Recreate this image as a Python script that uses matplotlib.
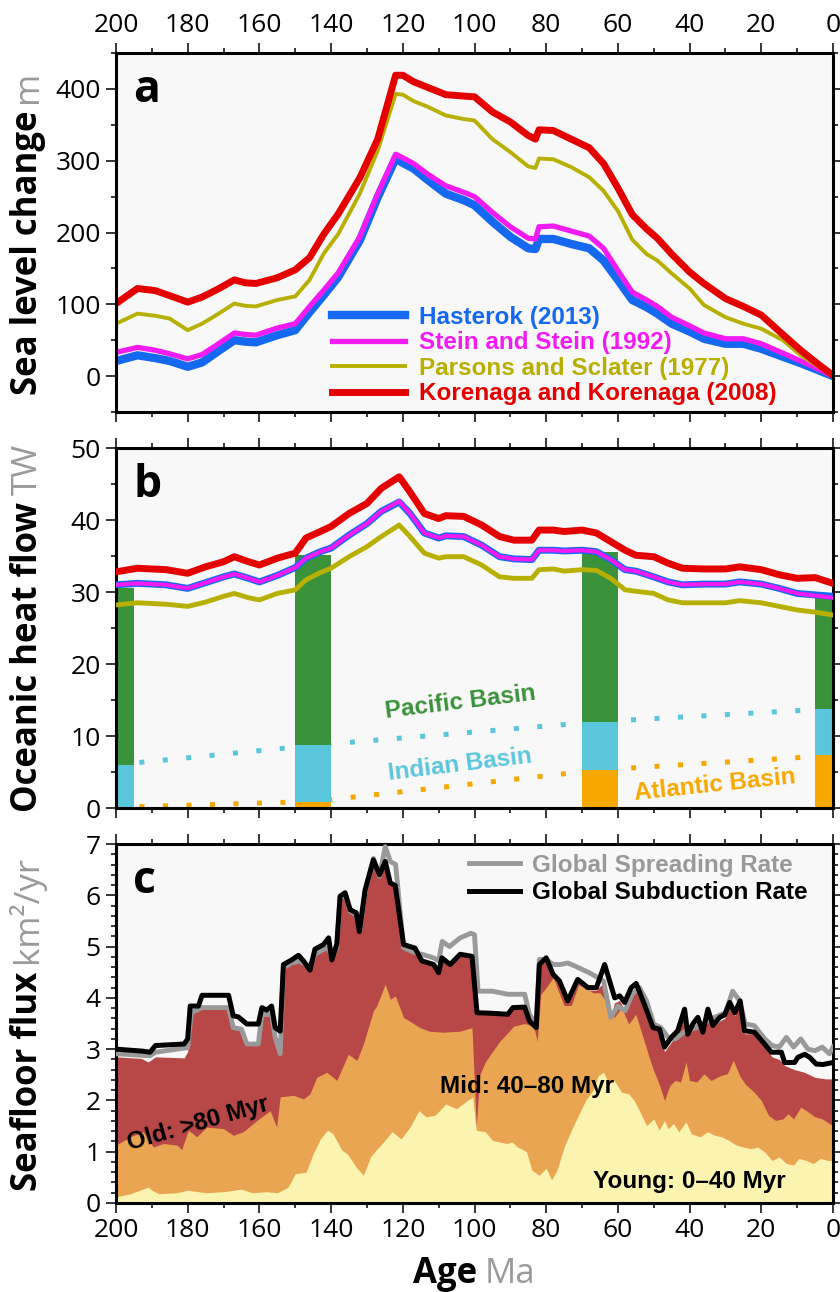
import numpy as np
import matplotlib
matplotlib.use("Agg")
import matplotlib.pyplot as plt
from matplotlib.ticker import MultipleLocator

# ---- panel a: sea level change (m) ----
age_a = [200, 194, 189, 185, 180, 176, 172, 167, 164, 161,
         155, 150, 146, 142, 138, 132, 127, 122, 120, 117,
         113, 108, 103, 100, 95, 90, 85, 83, 82, 78,
         73, 68, 64, 60, 56, 52, 49, 45, 40, 36,
         30, 25, 20, 14, 9, 5, 0]
hasterok_a = [21, 29, 25, 21, 13, 19, 33, 50, 48, 47,
              57, 64, 89, 113, 138, 189, 249, 303, 297, 289,
              273, 254, 245, 238, 215, 194, 178, 177, 191, 191,
              184, 178, 161, 134, 106, 96, 87, 73, 62, 52,
              45, 45, 38, 27, 18, 10, 0]
stein_a = [33, 40, 36, 31, 24, 30, 43, 60, 58, 57,
           67, 73, 97, 120, 144, 194, 254, 309, 304, 296,
           281, 265, 256, 250, 228, 208, 192, 191, 208, 209,
           202, 195, 178, 147, 117, 106, 97, 82, 70, 60,
           52, 52, 45, 32, 21, 12, 0]
parsons_a = [73, 87, 84, 80, 64, 73, 85, 101, 98, 97,
             106, 111, 134, 171, 198, 254, 314, 393, 392, 383,
             375, 363, 358, 356, 330, 312, 292, 290, 303, 302,
             291, 277, 258, 230, 190, 170, 161, 143, 122, 99,
             82, 73, 66, 50, 29, 16, 1]
korenaga_a = [101, 122, 119, 112, 103, 110, 120, 134, 130, 129,
              137, 148, 165, 198, 226, 276, 330, 419, 419, 410,
              402, 392, 390, 389, 368, 354, 335, 330, 343, 342,
              330, 318, 296, 262, 225, 205, 192, 170, 145, 129,
              108, 97, 85, 58, 36, 20, 1]

# ---- panel b: oceanic heat flow (TW) ----
age_b = [200, 194, 186, 180, 175, 170, 167, 163, 160, 155,
         150, 147, 143, 140, 135, 130, 126, 121, 118, 114,
         110, 108, 103, 98, 93, 89, 84, 82, 78, 75,
         70, 66, 62, 58, 55, 50, 46, 42, 36, 30,
         26, 20, 15, 10, 5, 0]
hasterok_b = [31.0, 31.2, 31.0, 30.5, 31.3, 32.1, 32.5, 31.9, 31.4, 32.3,
              33.4, 34.7, 35.6, 36.1, 37.9, 39.5, 41.2, 42.5, 40.9, 38.2,
              37.5, 37.8, 37.7, 36.5, 34.9, 34.6, 34.5, 35.8, 35.8, 35.7,
              35.8, 35.6, 34.5, 33.1, 32.9, 32.1, 31.4, 31.0, 31.1, 31.1,
              31.4, 31.1, 30.5, 29.8, 29.6, 29.4]
stein_b = [31.0, 31.2, 31.0, 30.5, 31.3, 32.1, 32.5, 31.9, 31.4, 32.3,
           33.4, 34.7, 35.6, 36.1, 37.9, 39.5, 41.2, 42.6, 40.9, 38.2,
           37.5, 37.8, 37.7, 36.5, 34.9, 34.6, 34.5, 35.8, 35.8, 35.7,
           35.8, 35.6, 34.5, 33.1, 32.9, 32.1, 31.4, 31.0, 31.1, 31.1,
           31.4, 31.1, 30.5, 29.8, 29.5, 29.2]
parsons_b = [28.2, 28.5, 28.3, 28.0, 28.6, 29.4, 29.8, 29.2, 28.9, 29.8,
             30.3, 31.7, 32.7, 33.3, 34.9, 36.3, 37.7, 39.3, 37.7, 35.4,
             34.7, 34.9, 34.9, 33.75, 32.1, 31.9, 31.9, 33.1, 33.2, 32.9,
             33.1, 33.0, 31.9, 30.3, 30.1, 29.8, 28.9, 28.5, 28.5, 28.5,
             28.8, 28.5, 28.0, 27.5, 27.2, 26.8]
korenaga_b = [32.8, 33.3, 33.1, 32.6, 33.5, 34.2, 34.9, 34.2, 33.75, 34.7,
              35.4, 37.5, 38.4, 39.1, 40.9, 42.3, 44.4, 46.0, 43.9, 40.9,
              40.2, 40.6, 40.5, 39.3, 37.7, 37.2, 37.2, 38.6, 38.6, 38.4,
              38.6, 38.2, 37.0, 35.8, 35.1, 34.9, 34.0, 33.3, 33.2, 33.2,
              33.5, 33.1, 32.4, 31.9, 32.0, 31.2]

basin_age = [200, 145, 65, 0]
atlantic = [0.1, 0.9, 5.3, 7.3]
indian = [5.9, 7.8, 6.7, 6.5]
pacific = [24.5, 26.4, 23.5, 15.6]

# ---- panel c: seafloor flux (km2/yr) ----
sub_age = [200, 192.4, 190.5, 189, 181, 180, 179.3, 177, 176, 168.6,
           167.3, 165.9, 163.5, 160.3, 159.3, 158, 156.6, 155.6, 154.2, 153.3,
           151, 149.1, 147.7, 145.9, 144.5, 142.1, 140.7, 139.8, 138.4, 137.5,
           136.1, 134.7, 133, 132.1, 130.5, 128.2, 126.5, 124.9, 123.5, 122.1,
           119.8, 116.6, 114.7, 111.4, 110, 109.1, 106.8, 104, 100.7, 99.3,
           95.3, 90.7, 89.3, 86, 84.7, 82.8, 81.9, 80, 78.1, 76.3,
           74, 71.2, 68.4, 66, 63.7, 60.9, 59.5, 58.1, 56.3, 54.9,
           52.6, 50.2, 48.4, 47, 45.1, 43.3, 41.4, 40.5, 39.1, 37.7,
           36.3, 34.9, 33.5, 31.6, 30.2, 28.8, 27.4, 25.9, 24.7, 21.9,
           19.1, 17.2, 14.4, 13.5, 10.7, 9.8, 7.9, 6.5, 4.7, 2.8,
           0]
sub_rate = [3.00, 2.96, 2.94, 3.07, 3.10, 3.20, 3.84, 3.84, 4.05, 4.05,
            3.65, 3.63, 3.49, 3.49, 3.81, 3.76, 3.84, 3.42, 3.35, 4.65,
            4.74, 4.83, 4.72, 4.54, 4.95, 5.04, 5.17, 4.74, 5.05, 5.98,
            6.05, 5.72, 5.66, 5.29, 6.11, 6.69, 6.40, 6.66, 6.24, 6.19,
            5.04, 4.97, 4.72, 4.65, 4.49, 4.78, 4.65, 4.85, 4.81, 3.71,
            3.70, 3.68, 3.81, 3.82, 3.55, 3.42, 4.65, 4.78, 4.46, 4.33,
            3.94, 4.36, 4.20, 4.20, 4.65, 4.00, 4.04, 3.91, 4.20, 4.28,
            3.87, 3.42, 3.39, 3.04, 3.23, 3.36, 3.78, 3.29, 3.49, 3.62,
            3.33, 3.78, 3.46, 3.62, 3.67, 3.91, 3.71, 3.94, 3.36, 3.33,
            3.10, 2.94, 2.94, 2.74, 2.74, 2.84, 2.90, 2.84, 2.71, 2.70,
            2.74]

spr_age = [200, 190.5, 189, 180, 179, 176, 168.6, 167.3, 165, 163.5,
           160.3, 159.3, 156.6, 155.6, 154.2, 153.3, 151, 149, 146, 144.5,
           142, 140.7, 139.8, 138.4, 137.5, 136, 134.7, 133, 132, 130.5,
           128.2, 126.5, 124.9, 123.5, 122, 119.8, 116.6, 114.7, 111.4, 110,
           109, 107, 104, 101, 100, 99, 95, 90.7, 86, 84.7,
           82.8, 81.9, 80, 78, 76, 74, 72, 68, 64, 62,
           60, 58, 56, 54, 52, 50, 48, 46, 44, 41,
           38, 35, 33, 30, 28, 26, 24.5, 22, 19, 17,
           15, 13, 11, 9, 7, 5, 3, 1, 0]
spr_rate = [2.91, 2.87, 2.94, 3.03, 3.71, 3.81, 3.81, 3.42, 3.39, 3.10,
            3.10, 3.68, 3.68, 3.23, 2.91, 4.59, 4.68, 4.72, 4.62, 4.85,
            4.95, 4.98, 4.78, 4.98, 5.95, 6.01, 5.69, 5.62, 5.30, 6.08,
            6.72, 6.37, 6.95, 6.66, 6.60, 4.98, 4.88, 4.85, 4.78, 4.72,
            5.10, 5.00, 5.17, 5.26, 5.23, 4.13, 4.13, 4.07, 4.07, 3.68,
            3.49, 4.75, 4.75, 4.65, 4.65, 4.68, 4.62, 4.49, 4.33, 3.62,
            3.84, 3.75, 4.07, 4.20, 3.94, 3.49, 3.42, 3.23, 3.20, 3.36,
            3.42, 3.55, 3.62, 3.71, 4.13, 3.94, 3.49, 3.46, 3.20, 3.07,
            3.04, 3.23, 3.04, 3.20, 3.00, 2.97, 3.04, 2.91, 3.04]

# cumulative tops of the age classes: total (old+mid+young), mid+young, young
tot_age = [200, 193, 191, 189, 181, 180, 179.3, 176, 168.6, 167.3,
           165, 163.5, 160.5, 159.3, 156.6, 155.6, 154.2, 153.3, 151, 149,
           146, 144.5, 142, 140.7, 139.8, 138.4, 137.5, 136, 134.7, 133,
           132, 130.5, 128.2, 126.5, 124.9, 123.5, 122, 119.8, 116.6, 114.7,
           111.4, 110, 109, 107, 104, 100.7, 99.3, 95, 90.7, 89.3,
           86, 84.7, 82.8, 81.9, 80, 78, 76, 74, 71, 68,
           66, 64, 62, 61, 59.5, 58, 56, 55, 52.6, 50.2,
           48.4, 47, 45, 43.3, 41.4, 40.5, 39, 37.7, 36.3, 35,
           33.5, 31.6, 30.2, 28.8, 27.4, 25.9, 24.7, 22, 19, 17,
           15, 13.5, 10.7, 8, 5, 2, 0]
tot_flux = [2.85, 2.82, 2.75, 2.85, 2.83, 2.95, 3.72, 3.78, 3.78, 3.40,
            3.37, 3.08, 3.08, 3.65, 3.65, 3.20, 2.88, 4.58, 4.66, 4.70,
            4.55, 4.85, 4.95, 4.98, 4.74, 4.98, 5.95, 6.00, 5.69, 5.62,
            5.29, 6.08, 6.65, 6.37, 6.66, 6.24, 6.19, 5.00, 4.90, 4.72,
            4.65, 4.49, 4.78, 4.65, 4.85, 4.81, 3.68, 3.68, 3.66, 3.80,
            3.80, 3.55, 3.40, 4.62, 4.72, 4.45, 4.30, 3.90, 4.30, 4.15,
            4.15, 4.30, 3.60, 3.90, 3.95, 3.75, 4.05, 4.18, 3.85, 3.40,
            3.35, 2.95, 3.15, 3.30, 3.70, 3.25, 3.40, 3.55, 3.30, 3.70,
            3.42, 3.55, 3.60, 3.85, 3.65, 3.88, 3.30, 3.30, 3.05, 2.85,
            2.80, 2.68, 2.60, 2.55, 2.45, 2.42, 2.42]

mid_age = [200, 196, 192.4, 189.6, 186.8, 183, 181.7, 179.8, 177.5, 174.7,
           170, 167.3, 164.5, 160.7, 157, 155.2, 154.2, 150.5, 147.7, 145.9,
           144, 141.2, 138.4, 136.6, 135.2, 132.8, 131, 128.2, 127.3, 124.9,
           123.5, 122.1, 119.8, 115.2, 112.6, 108.9, 104, 100.7, 99.5, 98.5,
           97, 95, 93, 91, 89, 86, 83.5, 82.5, 81.5, 80,
           78, 77, 75, 73, 71, 69, 67, 65, 63, 61,
           59, 57, 55, 53, 51, 50, 48.5, 47, 45.5, 44,
           42.5, 41, 40, 38, 36, 34, 31.5, 29.5, 27.8, 26,
           24.5, 22, 20, 18, 16, 14, 12.5, 11, 9, 7,
           5, 3, 1, 0]
mid_top = [1.13, 1.29, 1.39, 1.09, 1.16, 1.13, 1.04, 1.42, 1.29, 1.48,
           1.45, 1.32, 1.39, 1.61, 1.80, 1.48, 2.07, 2.10, 2.03, 2.13,
           2.45, 2.55, 2.39, 2.68, 2.90, 2.78, 3.10, 3.75, 3.84, 4.27,
           3.97, 4.04, 3.62, 3.42, 3.35, 3.33, 3.35, 3.42, 1.50, 2.50,
           2.75, 2.95, 3.15, 3.30, 3.45, 3.50, 3.45, 3.15, 4.07, 4.20,
           4.40, 4.20, 3.85, 3.85, 4.25, 4.20, 4.10, 4.10, 3.90, 3.62,
           3.81, 3.49, 3.68, 3.23, 2.78, 2.58, 2.32, 2.00, 2.29, 2.39,
           2.36, 2.75, 2.39, 2.36, 2.52, 2.39, 2.48, 2.52, 2.78, 2.48,
           2.32, 2.16, 2.00, 1.71, 1.61, 1.64, 1.74, 1.64, 1.87, 1.78,
           1.68, 1.64, 1.55, 1.51]

young_age = [200, 196, 191, 190, 188, 183, 180, 175, 170, 165,
             162, 158, 155, 152, 150, 147, 145, 143, 141, 139.5,
             137, 135.5, 133, 131, 129, 127.5, 125, 123, 120.5, 118,
             115.5, 113.5, 111, 108, 105, 102, 100.5, 99.5, 97, 95,
             93, 91, 89.5, 88, 87, 85.5, 84, 82, 80, 78.5,
             77, 75, 73, 71, 69, 67, 65.5, 64, 62.5, 61,
             59, 57, 55.5, 54, 52, 50, 48.5, 47, 46, 44.5,
             43, 41, 39.5, 37, 35, 33, 31, 29, 27, 25,
             23, 21, 19, 17, 15, 13, 11, 9.5, 7.5, 5.5,
             3.5, 1.5, 0]
young_top = [0.12, 0.18, 0.31, 0.25, 0.18, 0.20, 0.25, 0.20, 0.22, 0.27,
             0.20, 0.22, 0.20, 0.31, 0.57, 0.60, 0.96, 1.25, 1.42, 1.35,
             1.03, 0.96, 0.70, 0.54, 0.90, 1.03, 1.22, 1.39, 1.25, 1.48,
             1.80, 1.68, 1.71, 1.93, 1.84, 2.00, 2.06, 1.42, 1.39, 1.22,
             1.19, 1.16, 1.19, 1.09, 1.06, 1.00, 0.64, 0.54, 0.68, 0.45,
             0.64, 1.09, 1.42, 1.71, 2.00, 2.19, 2.48, 2.55, 2.32, 2.39,
             2.16, 2.13, 2.00, 1.80, 1.51, 1.64, 1.42, 1.61, 1.45, 1.55,
             1.39, 1.58, 1.35, 1.29, 1.39, 1.32, 1.29, 1.22, 1.13, 1.09,
             1.06, 1.09, 0.99, 0.83, 0.90, 0.77, 0.74, 0.87, 0.83, 0.77,
             0.87, 0.83, 0.83]

# colours
BLUE = "#1569f0"
MAGENTA = "#f21cf2"
OLIVE = "#b7b000"
RED = "#e50000"
GREEN = "#3a923a"
CYAN = "#5ac6dc"
AMBER = "#f7a800"
OLD = "#b84747"
MID = "#e9a552"
YOUNG = "#fbf3b0"
UNIT = "#9a9a9a"

plt.rcParams["font.family"] = ["Open Sans", "DejaVu Sans"]
TICK_SIZE = 19
LABEL_SIZE = 25
TEXT_SIZE = 17.5
ANNOT_FONT = ["Liberation Sans", "DejaVu Sans"]

W, H = 840, 1292
fig = plt.figure(figsize=(W / 100, H / 100), dpi=100)

left = 116 / W
width = 717 / W
ax_a = fig.add_axes([left, 1 - 412 / H, width, 359 / H])
ax_b = fig.add_axes([left, 1 - 808 / H, width, 360 / H])
ax_c = fig.add_axes([left, 1 - 1203 / H, width, 359 / H])

for ax in (ax_a, ax_b, ax_c):
    ax.set_facecolor("#f8f8f8")
    ax.set_xlim(200, 0)
    ax.xaxis.set_major_locator(MultipleLocator(20))
    ax.xaxis.set_minor_locator(MultipleLocator(10))
    for s in ax.spines.values():
        s.set_linewidth(2.2)
    ax.tick_params(which="both", direction="out", top=True, right=True,
                   labelsize=TICK_SIZE, width=1.1, pad=4)
    ax.tick_params(which="major", length=7)
    ax.tick_params(which="minor", length=3.6)

ax_a.tick_params(axis="x", labeltop=True, labelbottom=False)
ax_b.tick_params(axis="x", labeltop=False, labelbottom=False)
ax_c.tick_params(axis="x", labeltop=False, labelbottom=True)

# ---- panel a ----
ax_a.set_ylim(-50, 450)
ax_a.yaxis.set_major_locator(MultipleLocator(100))
ax_a.yaxis.set_minor_locator(MultipleLocator(50))
ax_a.plot(age_a, hasterok_a, color=BLUE, lw=6, label="Hasterok (2013)")
ax_a.plot(age_a, stein_a, color=MAGENTA, lw=3.8, label="Stein and Stein (1992)")
ax_a.plot(age_a, parsons_a, color=OLIVE, lw=2.8, label="Parsons and Sclater (1977)")
ax_a.plot(age_a, korenaga_a, color=RED, lw=5, label="Korenaga and Korenaga (2008)")
leg = ax_a.legend(loc="center left", bbox_to_anchor=(0.301, 0.157), frameon=False,
                  prop={"family": ANNOT_FONT, "weight": "bold", "size": TEXT_SIZE},
                  handlelength=3.0, handletextpad=0.6, labelspacing=0.1,
                  borderpad=0, borderaxespad=0)
for txt, ln in zip(leg.get_texts(), leg.get_lines()):
    txt.set_color(ln.get_color())

# ---- panel b ----
ax_b.set_ylim(0, 50)
ax_b.yaxis.set_major_locator(MultipleLocator(10))
ax_b.yaxis.set_minor_locator(MultipleLocator(5))
atl = np.array(atlantic)
ind = np.array(indian)
pac = np.array(pacific)
ax_b.plot(basin_age, atl + ind, color=CYAN, lw=3.6, ls=(0, (1, 3.7)), zorder=1.5)
ax_b.plot(basin_age, atl, color=AMBER, lw=3.6, ls=(0, (1, 3.7)), zorder=1.5)
ax_b.bar(basin_age, atl, width=10, color=AMBER, zorder=2)
ax_b.bar(basin_age, ind, width=10, bottom=atl, color=CYAN, zorder=2)
ax_b.bar(basin_age, pac, width=10, bottom=atl + ind, color=GREEN, zorder=2)
ax_b.plot(age_b, parsons_b, color=OLIVE, lw=3.5, zorder=3)
ax_b.plot(age_b, hasterok_b, color=BLUE, lw=5, zorder=3)
ax_b.plot(age_b, stein_b, color=MAGENTA, lw=3, zorder=3)
ax_b.plot(age_b, korenaga_b, color=RED, lw=5, zorder=3)
ax_b.text(104, 14.7, "Pacific Basin", color=GREEN, rotation=7, ha="center", va="center",
          fontsize=TEXT_SIZE, fontweight="bold", family=ANNOT_FONT)
ax_b.text(104, 6.0, "Indian Basin", color=CYAN, rotation=7, ha="center", va="center",
          fontsize=TEXT_SIZE, fontweight="bold", family=ANNOT_FONT)
ax_b.text(33, 3.2, "Atlantic Basin", color=AMBER, rotation=6, ha="center", va="center",
          fontsize=TEXT_SIZE, fontweight="bold", family=ANNOT_FONT)

# ---- panel c ----
ax_c.set_ylim(0, 7)
ax_c.yaxis.set_major_locator(MultipleLocator(1))
ax_c.yaxis.set_minor_locator(MultipleLocator(0.2))
ax_c.fill_between(tot_age, 0, tot_flux, color=OLD, lw=0, zorder=1)
ax_c.fill_between(mid_age, 0, mid_top, color=MID, lw=0, zorder=1.1)
ax_c.fill_between(young_age, 0, young_top, color=YOUNG, lw=0, zorder=1.2)
ax_c.plot(spr_age, spr_rate, color="#999999", lw=3.5, zorder=3, label="Global Spreading Rate")
ax_c.plot(sub_age, sub_rate, color="black", lw=3.6, zorder=4, label="Global Subduction Rate")
leg = ax_c.legend(loc="center left", bbox_to_anchor=(0.492, 0.9025), frameon=False,
                  prop={"family": ANNOT_FONT, "weight": "bold", "size": TEXT_SIZE},
                  handlelength=2.1, handletextpad=0.5, labelspacing=0.2,
                  borderpad=0, borderaxespad=0)
for txt, ln in zip(leg.get_texts(), leg.get_lines()):
    txt.set_color(ln.get_color())
ax_c.text(177, 1.55, "Old: >80 Myr", rotation=16, ha="center", va="center",
          fontsize=TEXT_SIZE, fontweight="bold", family=ANNOT_FONT, zorder=5)
ax_c.text(85.4, 2.27, "Mid: 40\u201380 Myr", ha="center", va="center",
          fontsize=TEXT_SIZE, fontweight="bold", family=ANNOT_FONT, zorder=5)
ax_c.text(40.2, 0.42, "Young: 0\u201340 Myr", ha="center", va="center",
          fontsize=TEXT_SIZE, fontweight="bold", family=ANNOT_FONT, zorder=5)

# panel letters
for ax, letter in ((ax_a, "a"), (ax_b, "b"), (ax_c, "c")):
    ax.text(0.024, 1 - 49 / 359, letter, transform=ax.transAxes, fontsize=32,
            fontweight="bold", va="baseline", ha="left", zorder=6)

# two-tone axis labels (bold name + grey unit)
renderer = fig.canvas.get_renderer()


def two_tone_ylabel(ax, name, unit, x_px=37):
    t1 = fig.text(0, 0, name, rotation=90, rotation_mode="anchor", ha="left",
                  va="baseline", fontsize=LABEL_SIZE, fontweight="bold")
    t2 = fig.text(0, 0, unit, rotation=90, rotation_mode="anchor", ha="left",
                  va="baseline", fontsize=LABEL_SIZE, color=UNIT)
    h1 = t1.get_window_extent(renderer).height
    h2 = t2.get_window_extent(renderer).height
    gap = 0.22 * LABEL_SIZE * fig.dpi / 72
    pos = ax.get_position()
    yc = (pos.y0 + pos.y1) / 2 * H
    y0 = yc - (h1 + gap + h2) / 2
    t1.set_position((x_px / W, y0 / H))
    t2.set_position((x_px / W, (y0 + h1 + gap) / H))


two_tone_ylabel(ax_a, "Sea level change", "m")
two_tone_ylabel(ax_b, "Oceanic heat flow", "TW")
two_tone_ylabel(ax_c, "Seafloor flux", "km\u00b2/yr")

t1 = fig.text(0, 0, "Age", ha="left", va="baseline", fontsize=LABEL_SIZE, fontweight="bold")
t2 = fig.text(0, 0, "Ma", ha="left", va="baseline", fontsize=LABEL_SIZE, color=UNIT)
w1 = t1.get_window_extent(renderer).width
w2 = t2.get_window_extent(renderer).width
gap = 0.22 * LABEL_SIZE * fig.dpi / 72
pos = ax_c.get_position()
xc = (pos.x0 + pos.x1) / 2 * W
x0 = xc - (w1 + gap + w2) / 2
t1.set_position((x0 / W, 9 / H))
t2.set_position(((x0 + w1 + gap) / W, 9 / H))

fig.savefig("out.png", dpi=100)
